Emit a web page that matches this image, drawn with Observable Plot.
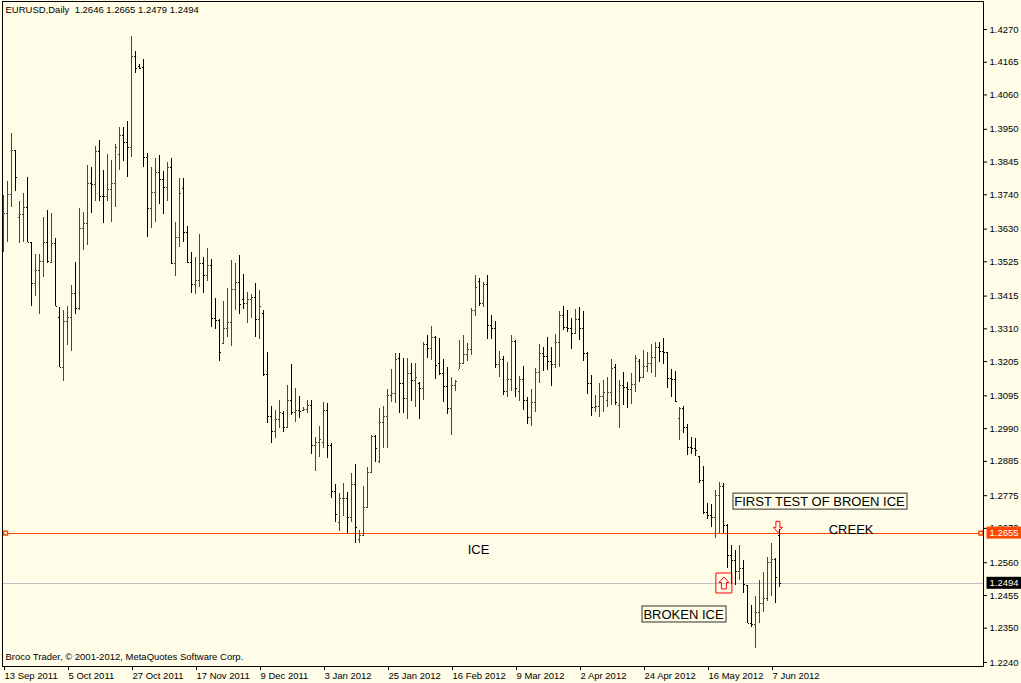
<!DOCTYPE html>
<html><head><meta charset="utf-8">
<script src="https://cdn.jsdelivr.net/npm/d3@7"></script>
<script src="https://cdn.jsdelivr.net/npm/@observablehq/plot@0.6"></script>
<style>
html,body{margin:0;padding:0;background:#fffde8;}
#chart{width:1021px;height:683px;overflow:hidden;}
</style></head><body><div id="chart"></div>
<script>
// ---- Data: EURUSD daily bars (one per trading day, index 0 = 13 Sep 2011) ----
const opens = [1.3625,1.3679,1.3740,1.3882,1.3668,1.3676,1.3700,1.3586,1.3454,1.3497,1.3526,1.3586,1.3522,1.3583,1.3345,1.3187,1.3334,1.3348,1.3424,1.3374,1.3633,1.3649,1.3775,1.3772,1.3879,1.3736,1.3734,1.3756,1.3775,1.3869,1.3930,1.3909,1.3893,1.4183,1.4151,1.4147,1.3858,1.3695,1.3746,1.3812,1.3788,1.3762,1.3826,1.3521,1.3604,1.3760,1.3620,1.3522,1.3452,1.3465,1.3521,1.3481,1.3513,1.3342,1.3337,1.3262,1.3310,1.3329,1.3436,1.3458,1.3403,1.3390,1.3403,1.3412,1.3339,1.3360,1.3163,1.3030,1.2981,1.3019,1.3040,1.2995,1.3080,1.3041,1.3048,1.3047,1.3050,1.3063,1.2935,1.2947,1.2945,1.3048,1.2935,1.2788,1.2690,1.2765,1.2767,1.2704,1.2811,1.2633,1.2647,1.2736,1.2848,1.2965,1.2885,1.3011,1.3029,1.3096,1.3102,1.3214,1.3136,1.3086,1.3166,1.3144,1.3136,1.3118,1.3260,1.3248,1.3281,1.3200,1.3166,1.3125,1.3053,1.3128,1.3180,1.3198,1.3227,1.3244,1.3369,1.3463,1.3390,1.3452,1.3321,1.3312,1.3195,1.3211,1.3109,1.3146,1.3270,1.3109,1.3146,1.3080,1.3025,1.3075,1.3171,1.3232,1.3221,1.3206,1.3195,1.3265,1.3353,1.3313,1.3310,1.3294,1.3340,1.3312,1.3230,1.3136,1.3057,1.3061,1.3093,1.3080,1.3105,1.3187,1.3064,1.3128,1.3123,1.3115,1.3130,1.3205,1.3155,1.3190,1.3200,1.3219,1.3251,1.3237,1.3233,1.3150,1.3148,1.3021,1.3053,1.2993,1.2928,1.2925,1.2900,1.2824,1.2722,1.2711,1.2705,1.2776,1.2804,1.2679,1.2583,1.2567,1.2533,1.2540,1.2487,1.2366,1.2362,1.2400,1.2428,1.2444,1.2560,1.2569,1.2646];
const highs = [1.3738,1.3783,1.3938,1.3882,1.3718,1.3743,1.3795,1.3586,1.3548,1.3548,1.3668,1.3690,1.3679,1.3599,1.3380,1.3369,1.3382,1.3449,1.3524,1.3697,1.3684,1.3834,1.3829,1.3895,1.3914,1.3818,1.3869,1.3850,1.3901,1.3955,1.3957,1.3975,1.4248,1.4200,1.4158,1.4173,1.3871,1.3826,1.3855,1.3866,1.3815,1.3842,1.3855,1.3650,1.3793,1.3791,1.3638,1.3554,1.3538,1.3613,1.3540,1.3569,1.3531,1.3408,1.3340,1.3398,1.3440,1.3529,1.3521,1.3545,1.3484,1.3428,1.3419,1.3454,1.3433,1.3369,1.3235,1.3061,1.3048,1.3080,1.3045,1.3128,1.3196,1.3118,1.3093,1.3057,1.3080,1.3080,1.2963,1.2997,1.3073,1.3070,1.2941,1.2811,1.2783,1.2815,1.2786,1.2845,1.2875,1.2663,1.2806,1.2866,1.2968,1.2968,1.3054,1.3061,1.3116,1.3180,1.3232,1.3230,1.3214,1.3214,1.3198,1.3198,1.3139,1.3267,1.3289,1.3318,1.3285,1.3278,1.3211,1.3185,1.3153,1.3144,1.3273,1.3289,1.3262,1.3376,1.3481,1.3470,1.3460,1.3481,1.3353,1.3334,1.3237,1.3222,1.3201,1.3289,1.3273,1.3157,1.3189,1.3089,1.3115,1.3182,1.3260,1.3251,1.3283,1.3251,1.3292,1.3367,1.3382,1.3369,1.3344,1.3372,1.3377,1.3367,1.3233,1.3160,1.3096,1.3134,1.3144,1.3155,1.3212,1.3196,1.3144,1.3169,1.3137,1.3166,1.3225,1.3212,1.3241,1.3235,1.3259,1.3267,1.3267,1.3278,1.3235,1.3180,1.3173,1.3059,1.3061,1.3002,1.2963,1.2957,1.2901,1.2869,1.2751,1.2747,1.2792,1.2818,1.2813,1.2683,1.2615,1.2599,1.2615,1.2567,1.2487,1.2423,1.2452,1.2503,1.2530,1.2578,1.2623,1.2572,1.2665];
const lows = [1.3556,1.3588,1.3700,1.3752,1.3585,1.3588,1.3586,1.3382,1.3415,1.3356,1.3476,1.3519,1.3519,1.3382,1.3187,1.3142,1.3257,1.3238,1.3356,1.3370,1.3561,1.3577,1.3681,1.3718,1.3720,1.3649,1.3720,1.3652,1.3700,1.3818,1.3848,1.3796,1.3861,1.4130,1.4141,1.3826,1.3604,1.3633,1.3652,1.3708,1.3676,1.3718,1.3515,1.3479,1.3572,1.3588,1.3518,1.3424,1.3419,1.3444,1.3424,1.3463,1.3315,1.3309,1.3206,1.3260,1.3283,1.3254,1.3369,1.3356,1.3371,1.3328,1.3342,1.3283,1.3276,1.3157,1.3005,1.2941,1.2957,1.2989,1.2979,1.2989,1.3032,1.3011,1.3021,1.3046,1.3037,1.2907,1.2854,1.2899,1.2925,1.2893,1.2765,1.2690,1.2661,1.2708,1.2653,1.2690,1.2621,1.2621,1.2645,1.2734,1.2845,1.2882,1.2877,1.2925,1.2925,1.3075,1.3070,1.3037,1.3037,1.3020,1.3077,1.3059,1.3019,1.3080,1.3216,1.3208,1.3148,1.3160,1.3075,1.3035,1.2968,1.3109,1.3179,1.3195,1.3205,1.3225,1.3350,1.3383,1.3380,1.3276,1.3276,1.3182,1.3155,1.3096,1.3091,1.3109,1.3091,1.3077,1.3048,1.3003,1.2997,1.3043,1.3136,1.3173,1.3176,1.3126,1.3184,1.3187,1.3305,1.3299,1.3244,1.3292,1.3273,1.3205,1.3099,1.3030,1.3043,1.3027,1.3043,1.3059,1.3064,1.3064,1.2989,1.3064,1.3053,1.3066,1.3107,1.3139,1.3152,1.3169,1.3166,1.3155,1.3203,1.3196,1.3118,1.3089,1.3073,1.2952,1.2973,1.2904,1.2907,1.2901,1.2815,1.2715,1.2698,1.2674,1.2637,1.2653,1.2653,1.2540,1.2490,1.2487,1.2503,1.2460,1.2364,1.2351,1.2284,1.2364,1.2401,1.2437,1.2452,1.2428,1.2479];
const closes = [1.3679,1.3740,1.3882,1.3795,1.3676,1.3700,1.3586,1.3454,1.3497,1.3526,1.3586,1.3526,1.3583,1.3382,1.3187,1.3334,1.3348,1.3424,1.3374,1.3633,1.3649,1.3775,1.3772,1.3879,1.3734,1.3734,1.3756,1.3775,1.3891,1.3930,1.3909,1.3893,1.4183,1.4144,1.4146,1.3858,1.3695,1.3746,1.3812,1.3788,1.3762,1.3826,1.3521,1.3604,1.3745,1.3620,1.3522,1.3452,1.3465,1.3521,1.3481,1.3513,1.3342,1.3337,1.3233,1.3310,1.3329,1.3436,1.3458,1.3387,1.3390,1.3403,1.3412,1.3339,1.3382,1.3163,1.3030,1.2981,1.3019,1.3041,1.2995,1.3080,1.3041,1.3048,1.3046,1.3050,1.3063,1.2935,1.2947,1.2955,1.3048,1.2935,1.2788,1.2715,1.2765,1.2767,1.2704,1.2811,1.2672,1.2647,1.2736,1.2848,1.2965,1.2925,1.3011,1.3029,1.3096,1.3102,1.3211,1.3136,1.3086,1.3167,1.3144,1.3153,1.3118,1.3260,1.3248,1.3281,1.3192,1.3166,1.3125,1.3053,1.3128,1.3142,1.3198,1.3227,1.3244,1.3369,1.3442,1.3390,1.3452,1.3321,1.3312,1.3195,1.3211,1.3109,1.3146,1.3270,1.3118,1.3146,1.3080,1.3025,1.3075,1.3171,1.3232,1.3221,1.3206,1.3195,1.3265,1.3353,1.3313,1.3310,1.3294,1.3340,1.3312,1.3230,1.3136,1.3057,1.3061,1.3093,1.3105,1.3105,1.3184,1.3073,1.3128,1.3123,1.3115,1.3130,1.3214,1.3155,1.3190,1.3200,1.3219,1.3251,1.3237,1.3233,1.3150,1.3148,1.3077,1.3053,1.2993,1.2928,1.2925,1.2920,1.2824,1.2722,1.2711,1.2705,1.2776,1.2804,1.2679,1.2583,1.2567,1.2533,1.2540,1.2490,1.2366,1.2362,1.2400,1.2428,1.2444,1.2560,1.2569,1.2514,1.2494];

const dateLabels = ["13 Sep 2011","5 Oct 2011","27 Oct 2011","17 Nov 2011","9 Dec 2011","3 Jan 2012","25 Jan 2012","16 Feb 2012","9 Mar 2012","2 Apr 2012","24 Apr 2012","16 May 2012","7 Jun 2012"];
const dateTickIndex = [0,16,32,48,64,80,96,112,128,144,160,176,192];
const priceTicks = [1.4270,1.4165,1.4060,1.3950,1.3845,1.3740,1.3630,1.3525,1.3415,1.3310,1.3205,1.3095,1.2990,1.2885,1.2775,1.2670,1.2560,1.2455,1.2350,1.2240];

const iceLevel = 1.2655;   // horizontal "ICE" line
const bidLevel = 1.2494;   // current bid line
const titleText = "EURUSD,Daily  1.2646 1.2665 1.2479 1.2494";
const copyrightText = "Broco Trader, \u00a9 2001-2012, MetaQuotes Software Corp.";

// annotations: bar index (x), price (cap-top y), text
const plainNotes = [
  {i: 118.75, price: 1.2618, text: "ICE"},
  {i: 211.9, price: 1.2683, text: "CREEK"}
];
const boxedNotes = [
  {i: 204, price: 1.2772, text: "FIRST TEST OF BROEN ICE"},
  {i: 170, price: 1.2410, text: "BROKEN ICE"}
];
const arrowsUp = [{i: 180.1, price: 1.2495}];
const arrowsDown = [{i: 193.6, price: 1.2675}];

// ---- build table ----
const bars = opens.map((o, i) => ({i, open: o, high: highs[i], low: lows[i], close: closes[i]}));
const upBars = bars.filter(d => d.close >= d.open);
const downBars = bars.filter(d => d.close < d.open);

const UP = "#2f4f4f", DOWN = "#000000", ICE_C = "#ff4500", BG = "#fffde8";

const upArrowBox = {draw(c) {
  c.moveTo(-8, -10); c.lineTo(8, -10); c.lineTo(8, 10); c.lineTo(-8, 10); c.closePath();
  c.moveTo(0, -6); c.lineTo(5, -0.5); c.lineTo(2.5, -0.5); c.lineTo(2.5, 6); c.lineTo(-2.5, 6); c.lineTo(-2.5, -0.5); c.lineTo(-5, -0.5); c.closePath();
}};
const downArrow = {draw(c) {
  c.moveTo(0, 5.5); c.lineTo(4.5, 0.5); c.lineTo(2, 0.5); c.lineTo(2, -5.5); c.lineTo(-2, -5.5); c.lineTo(-2, 0.5); c.lineTo(-4.5, 0.5); c.closePath();
}};

function barMarks(data, color) {
  return [
    Plot.ruleX(data, {x: "i", y1: "low", y2: "high", stroke: color, shapeRendering: "crispEdges"}),
    Plot.ruleY(data, {y: "open", x1: d => d.i - 0.25, x2: "i", dx: -0.5, stroke: color, shapeRendering: "crispEdges"}),
    Plot.ruleY(data, {y: "close", x1: "i", x2: d => d.i + 0.25, dx: 0.5, stroke: color, shapeRendering: "crispEdges"})
  ];
}

const FONT = "'Liberation Sans', Arial, sans-serif";

const svg = Plot.plot({
  width: 1021, height: 683,
  marginLeft: 2, marginRight: 38, marginTop: 1, marginBottom: 17,
  style: {background: BG, fontFamily: FONT, fontSize: "9.5px", color: "black", overflow: "hidden"},
  x: {type: "linear", domain: [0, 194], range: [3, 779], label: null},
  y: {domain: [1.2240, 1.4270], range: [662, 29], label: null},
  marks: [
    Plot.ruleY([bidLevel], {stroke: "#c0c0c0", shapeRendering: "crispEdges"}),
    Plot.ruleY([iceLevel], {stroke: ICE_C, shapeRendering: "crispEdges"}),
    ...barMarks(upBars, UP),
    ...barMarks(downBars, DOWN),
    Plot.dot([iceLevel], {y: d => d, frameAnchor: "left", dx: 3, symbol: "square", r: 2.2, stroke: ICE_C, fill: BG}),
    Plot.dot([iceLevel], {y: d => d, frameAnchor: "right", dx: -2.5, symbol: "square", r: 2.2, stroke: ICE_C, fill: BG}),
    Plot.frame({stroke: "black", shapeRendering: "crispEdges"}),
    Plot.axisY(priceTicks, {anchor: "right", tickSize: 3, tickPadding: 3, tickFormat: d => d.toFixed(4), fontSize: 9.5, fill: "black", stroke: "black", label: null}),
    Plot.axisX(dateTickIndex, {anchor: "bottom", tickSize: 4, tickPadding: 2, textAnchor: "start", dx: 1, fontSize: 9.5, fill: "black", stroke: "black", label: null,
      tickFormat: d => dateLabels[dateTickIndex.indexOf(d)]}),
    Plot.text([{v: iceLevel, t: iceLevel.toFixed(4)}, {v: bidLevel, t: bidLevel.toFixed(4)}],
      {y: "v", text: "t", frameAnchor: "right", dx: 6, textAnchor: "start", fill: "white", fontSize: 9.5, ariaDescription: "pricebox"}),
    Plot.text([titleText], {frameAnchor: "top-left", dx: 3, dy: 5, textAnchor: "start", lineAnchor: "top", fontSize: 9.5, fill: "black"}),
    Plot.text([copyrightText], {frameAnchor: "bottom-left", dx: 3, dy: -13, textAnchor: "start", lineAnchor: "top", fontSize: 9.5, fill: "black"}),
    Plot.text(plainNotes, {x: "i", y: "price", text: "text", textAnchor: "middle", lineAnchor: "top", fontSize: 13, fill: "black"}),
    Plot.text(boxedNotes, {x: "i", y: "price", text: "text", textAnchor: "middle", lineAnchor: "top", fontSize: 13, fill: "black", ariaDescription: "boxed"}),
    Plot.dot(arrowsUp, {x: "i", y: "price", symbol: upArrowBox, stroke: "#ff0000", fill: "none", strokeWidth: 1}),
    Plot.dot(arrowsDown, {x: "i", y: "price", symbol: downArrow, stroke: "#ff0000", fill: "none", strokeWidth: 1})
  ]
});
document.getElementById("chart").appendChild(svg);

// boxes behind price labels and boxed annotations
const NS = "http://www.w3.org/2000/svg";
const boxColors = [ICE_C, "#000000"];
function findGroup(desc) {
  return Array.from(svg.querySelectorAll("g")).find(g => g.getAttribute("aria-description") === desc);
}
const pg = findGroup("pricebox");
if (pg) pg.querySelectorAll("text").forEach((t, k) => {
  const b = t.getBBox();
  const r = document.createElementNS(NS, "rect");
  const x0 = Math.round(b.x) - 3, y0 = Math.round(b.y) - 0.5;
  r.setAttribute("x", x0); r.setAttribute("y", y0);
  r.setAttribute("width", 1021); r.setAttribute("height", Math.round(b.height) + 1);
  r.setAttribute("fill", boxColors[k]); r.setAttribute("stroke", "none");
  const tr = t.getAttribute("transform"); if (tr) r.setAttribute("transform", tr);
  t.parentNode.insertBefore(r, t);
});
const bgp = findGroup("boxed");
if (bgp) bgp.querySelectorAll("text").forEach(t => {
  const b = t.getBBox();
  const r = document.createElementNS(NS, "rect");
  r.setAttribute("x", Math.round(b.x) - 1.5); r.setAttribute("y", Math.round(b.y) - 0.5);
  r.setAttribute("width", Math.round(b.width) + 3); r.setAttribute("height", Math.round(b.height) + 1);
  r.setAttribute("fill", "none"); r.setAttribute("stroke", "#303030"); r.setAttribute("stroke-width", 1);
  const tr = t.getAttribute("transform"); if (tr) r.setAttribute("transform", tr);
  t.parentNode.insertBefore(r, t);
});
</script>
</body></html>
